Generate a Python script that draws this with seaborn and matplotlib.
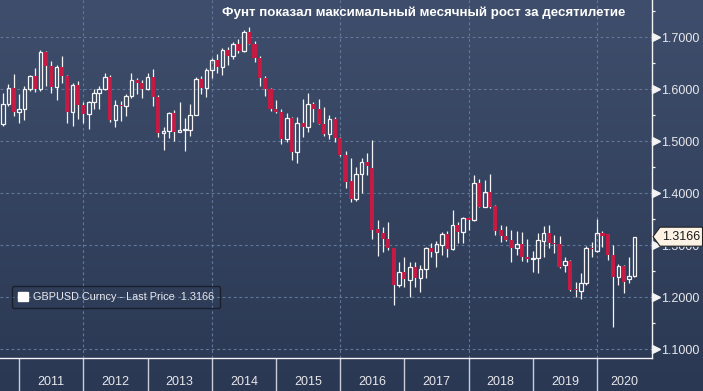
import numpy as np
import pandas as pd
import matplotlib
matplotlib.use("Agg")
import matplotlib.pyplot as plt
import matplotlib.transforms as mtransforms
from matplotlib.colors import LinearSegmentedColormap
from matplotlib.patches import Patch, Polygon
import seaborn as sns

# ---------------- data (monthly GBPUSD candles, Sep 2010 .. Jul 2020) -------------
start_month = "2010-09-30"
title = "Фунт показал максимальный месячный рост за десятилетие"
legend_label = "GBPUSD Curncy - Last Price  1.3166"
last_price = 1.3166
y_ticks = [1.1, 1.2, 1.3, 1.4, 1.5, 1.6, 1.7]

opens = [1.533, 1.572, 1.603, 1.557,
         1.562, 1.601, 1.626, 1.601, 1.672, 1.644, 1.605, 1.642, 1.626, 1.557, 1.608, 1.570,
         1.553, 1.575, 1.593, 1.601, 1.623, 1.540, 1.570, 1.567, 1.588, 1.618, 1.613, 1.601,
         1.624, 1.586, 1.515, 1.519, 1.554, 1.518, 1.521, 1.521, 1.551, 1.620, 1.603, 1.637,
         1.656, 1.643, 1.676, 1.664, 1.687, 1.674, 1.711, 1.688, 1.660, 1.621, 1.600, 1.562,
         1.557, 1.504, 1.544, 1.480, 1.535, 1.528, 1.572, 1.562, 1.534, 1.514, 1.543, 1.506,
         1.474, 1.424, 1.390, 1.437, 1.461, 1.448, 1.331, 1.323, 1.313, 1.294, 1.224, 1.249,
         1.233, 1.258, 1.237, 1.254, 1.294, 1.288, 1.301, 1.322, 1.292, 1.339, 1.326, 1.352,
         1.349, 1.419, 1.374, 1.403, 1.376, 1.329, 1.318, 1.311, 1.294, 1.302, 1.277, 1.273,
         1.275, 1.309, 1.324, 1.304, 1.302, 1.262, 1.270, 1.215, 1.213, 1.228, 1.294, 1.290,
         1.324, 1.322, 1.281, 1.240, 1.260, 1.235, 1.241]
highs = [1.593, 1.611, 1.629, 1.591,
         1.606, 1.628, 1.641, 1.676, 1.673, 1.655, 1.647, 1.664, 1.628, 1.612, 1.615, 1.576,
         1.578, 1.601, 1.606, 1.631, 1.628, 1.579, 1.578, 1.591, 1.631, 1.622, 1.618, 1.631,
         1.639, 1.589, 1.528, 1.557, 1.560, 1.575, 1.544, 1.571, 1.623, 1.626, 1.640, 1.661,
         1.668, 1.679, 1.681, 1.690, 1.696, 1.714, 1.720, 1.692, 1.664, 1.626, 1.602, 1.579,
         1.562, 1.554, 1.546, 1.547, 1.581, 1.592, 1.576, 1.582, 1.566, 1.551, 1.547, 1.509,
         1.482, 1.467, 1.451, 1.467, 1.477, 1.502, 1.349, 1.336, 1.345, 1.294, 1.268, 1.278,
         1.268, 1.268, 1.262, 1.296, 1.304, 1.309, 1.326, 1.328, 1.367, 1.345, 1.355, 1.352,
         1.435, 1.427, 1.426, 1.437, 1.377, 1.339, 1.337, 1.329, 1.328, 1.326, 1.313, 1.290,
         1.323, 1.337, 1.339, 1.320, 1.318, 1.278, 1.272, 1.230, 1.246, 1.299, 1.307, 1.350,
         1.328, 1.322, 1.301, 1.265, 1.262, 1.278, 1.3166]
lows = [1.529, 1.567, 1.549, 1.536,
        1.541, 1.597, 1.595, 1.597, 1.606, 1.592, 1.579, 1.613, 1.535, 1.529, 1.542, 1.535,
        1.524, 1.563, 1.562, 1.599, 1.537, 1.528, 1.539, 1.549, 1.584, 1.590, 1.584, 1.599,
        1.568, 1.509, 1.483, 1.506, 1.501, 1.517, 1.481, 1.511, 1.550, 1.590, 1.586, 1.622,
        1.632, 1.627, 1.647, 1.658, 1.670, 1.672, 1.687, 1.653, 1.606, 1.587, 1.559, 1.555,
        1.495, 1.499, 1.464, 1.458, 1.509, 1.518, 1.538, 1.533, 1.510, 1.505, 1.499, 1.472,
        1.410, 1.384, 1.386, 1.400, 1.435, 1.313, 1.279, 1.288, 1.291, 1.185, 1.220, 1.220,
        1.201, 1.220, 1.211, 1.237, 1.277, 1.259, 1.281, 1.278, 1.291, 1.304, 1.305, 1.329,
        1.347, 1.373, 1.373, 1.371, 1.320, 1.307, 1.309, 1.267, 1.281, 1.270, 1.267, 1.249,
        1.246, 1.278, 1.294, 1.286, 1.256, 1.249, 1.212, 1.200, 1.196, 1.224, 1.278, 1.288,
        1.297, 1.272, 1.142, 1.224, 1.209, 1.227, 1.240]
closes = [1.572, 1.603, 1.557, 1.562,
          1.601, 1.626, 1.601, 1.672, 1.644, 1.605, 1.642, 1.626, 1.557, 1.608, 1.570, 1.553,
          1.575, 1.593, 1.601, 1.623, 1.540, 1.570, 1.567, 1.588, 1.618, 1.613, 1.601, 1.624,
          1.586, 1.515, 1.519, 1.554, 1.518, 1.521, 1.522, 1.551, 1.620, 1.603, 1.637, 1.656,
          1.643, 1.676, 1.664, 1.687, 1.674, 1.711, 1.688, 1.660, 1.621, 1.600, 1.562, 1.557,
          1.504, 1.544, 1.480, 1.535, 1.528, 1.572, 1.562, 1.534, 1.514, 1.543, 1.506, 1.474,
          1.422, 1.390, 1.437, 1.461, 1.452, 1.329, 1.323, 1.313, 1.294, 1.224, 1.249, 1.236,
          1.258, 1.237, 1.254, 1.294, 1.288, 1.302, 1.322, 1.292, 1.339, 1.326, 1.352, 1.349,
          1.419, 1.374, 1.403, 1.373, 1.328, 1.318, 1.310, 1.294, 1.302, 1.277, 1.273, 1.275,
          1.310, 1.324, 1.304, 1.302, 1.258, 1.270, 1.214, 1.214, 1.228, 1.294, 1.292, 1.324,
          1.318, 1.281, 1.240, 1.260, 1.230, 1.241, 1.3166]

# ---------------- styling -------------
sns.set_theme(style="dark")
plt.rcParams["font.family"] = ["Liberation Sans", "DejaVu Sans"]

W, H = 703, 391
RED = "#c41a43"
WHITE = "#f4f4f4"
GRID = "#62789b"
TXT = "#e8e8ec"

dates = pd.date_range(start_month, periods=len(opens), freq="ME")
df = pd.DataFrame({"date": dates, "open": opens, "high": highs, "low": lows, "close": closes})
df["x"] = df["date"].dt.year + df["date"].dt.month / 12.0
df["top"] = df[["open", "close"]].max(axis=1)
df["bot"] = df[["open", "close"]].min(axis=1)
df["up"] = df["close"] >= df["open"]

fig = plt.figure(figsize=(W / 100, H / 100), dpi=100)

# background gradient
bg = fig.add_axes([0, 0, 1, 1], zorder=-10)
cmap = LinearSegmentedColormap.from_list("bg", ["#3f4e6c", "#2a3853"])
bg.imshow(np.linspace(0, 1, 256)[:, None], aspect="auto", cmap=cmap,
          extent=[0, 1, 0, 1], origin="upper")
bg.axis("off")

plot_bottom_px = 358
plot_right_px = 652
ax = fig.add_axes([0, (H - plot_bottom_px) / H, plot_right_px / W, plot_bottom_px / H])
ax.set_facecolor("none")

xmin, xmax = 2010.703, 2020.856
ymin, ymax = 1.0833, 1.7717
ax.set_xlim(xmin, xmax)
ax.set_ylim(ymin, ymax)

# gridlines
for yv in y_ticks:
    ax.axhline(yv, color=GRID, lw=0.8, ls=(0, (2.5, 2.5)), zorder=0)
first_year = int(np.ceil(xmin))
for yr in range(first_year, int(xmax) + 1):
    if yr % 2 == 0:
        ax.axvline(yr, color=GRID, lw=0.8, ls=(0, (2.5, 2.5)), zorder=0)

# candles
bw = 0.058
dn = df[~df["up"]]
upc = df[df["up"]]
ax.vlines(dn["x"], dn["low"], dn["high"], color=WHITE, lw=0.9, zorder=2)
ax.bar(dn["x"], (dn["top"] - dn["bot"]).clip(lower=0.002), bottom=dn["bot"], width=bw + 0.008,
       color=RED, edgecolor="none", zorder=3)
ax.vlines(upc["x"], upc["top"], upc["high"], color=WHITE, lw=0.9, zorder=2)
ax.vlines(upc["x"], upc["low"], upc["bot"], color=WHITE, lw=0.9, zorder=2)
ax.bar(upc["x"], (upc["top"] - upc["bot"]).clip(lower=0.002), bottom=upc["bot"], width=bw,
       fill=False, edgecolor=WHITE, linewidth=0.9, zorder=3)

# spines
for s in ["top", "left"]:
    ax.spines[s].set_visible(False)
for s in ["right", "bottom"]:
    ax.spines[s].set_visible(True)
    ax.spines[s].set_color(WHITE)
    ax.spines[s].set_linewidth(1.0)

# y axis on right
ax.yaxis.tick_right()
ax.set_yticks(y_ticks)
ax.set_yticklabels([f"{v:.4f}" for v in y_ticks])
ax.set_yticks([v + 0.05 for v in y_ticks[:-1]] + [1.75], minor=True)
ax.tick_params(axis="y", which="major", length=0, pad=6.6, labelsize=9, labelcolor=TXT,
               left=False, right=True)
ax.tick_params(axis="y", which="minor", length=2.5, width=0.9, color=WHITE, right=True, left=False)
tri_tr = mtransforms.blended_transform_factory(ax.transAxes, ax.transData) + \
    mtransforms.ScaledTranslation(0.04, 0, fig.dpi_scale_trans)
ax.plot(np.ones(len(y_ticks)), y_ticks, ls="none", marker=">", ms=5.5, color=WHITE,
        transform=tri_tr, clip_on=False, zorder=5)

# x axis: year separators + centred labels
years = list(range(first_year, int(xmax) + 1))
ax.set_xticks(years)
ax.set_xticklabels([""] * len(years))
centers, labels = [], []
for yr in range(int(xmin), int(xmax) + 1):
    a, b = max(yr, xmin), min(yr + 1, xmax)
    if b - a > 0.5:
        centers.append((a + b) / 2)
        labels.append(str(yr))
ax.set_xticks(centers, minor=True)
ax.set_xticklabels(labels, minor=True)
ax.tick_params(axis="x", which="major", length=24, width=1.0, color="#c9ced8", direction="out",
               bottom=True)
ax.tick_params(axis="x", which="minor", length=0, pad=13, labelsize=9, labelcolor=TXT, bottom=True)
ax.grid(False)

# last-price marker box (covers the upper part of the 1.3000 label, as in the original)
fig.canvas.draw()
_, ypix = ax.transData.transform((xmin, last_price))
yc = H - ypix  # from top
hh = 9.5
pts = [(653, yc), (660, yc - hh), (702.5, yc - hh), (702.5, yc + hh), (660, yc + hh)]
poly = Polygon([(px / W, 1 - py / H) for px, py in pts], closed=True, transform=fig.transFigure,
               facecolor="#fdf3e4", edgecolor="#222222", lw=0.8, zorder=20)
fig.add_artist(poly)
fig.text(662 / W, 1 - yc / H, f"{last_price:.4f}", ha="left", va="center", fontsize=9,
         color="#1b1b1b", zorder=21)

# legend
leg = ax.legend(handles=[Patch(facecolor="white", edgecolor="white")], labels=[legend_label],
                loc="lower left", bbox_to_anchor=(12 / plot_right_px, (plot_bottom_px - 308) / plot_bottom_px),
                borderaxespad=0, fontsize=7.8, labelcolor=TXT, frameon=True, fancybox=True,
                handlelength=0.9, handleheight=0.9, handletextpad=0.5, borderpad=0.55)
fr = leg.get_frame()
fr.set_facecolor("none")
fr.set_edgecolor("#141820")
fr.set_linewidth(1.0)

# title
fig.text(424 / W, 1 - 13 / H, title, ha="center", va="center", fontsize=9.6, fontweight="bold",
         color="white")

fig.savefig("out.png", dpi=100)
